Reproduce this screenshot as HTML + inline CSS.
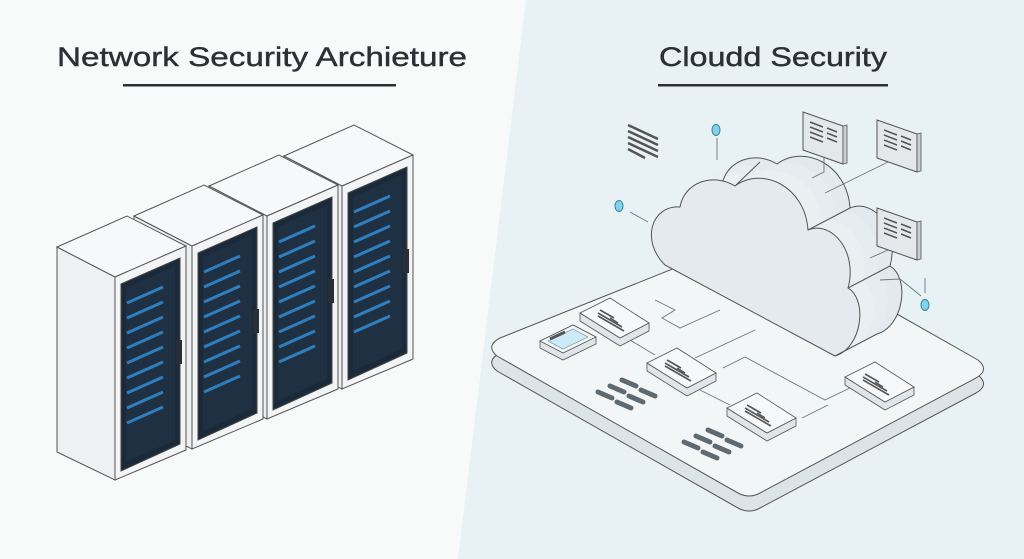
<!DOCTYPE html>
<html><head><meta charset="utf-8"><style>
html,body{margin:0;padding:0;width:1024px;height:559px;overflow:hidden;background:#f8f9f9}
svg{display:block}
</style></head><body>
<svg width="1024" height="559" viewBox="0 0 1024 559" xmlns="http://www.w3.org/2000/svg">
<defs>
<g id="rack">
  <polygon points="57,247 115,277 115,480 57,452" fill="#eef0f2" stroke="#555" stroke-width="1"/>
  <polygon points="57,247 127,216 186,246 115,277" fill="#f7f8f9" stroke="#555" stroke-width="1"/>
  <polygon points="115,277 186,246 186,450 115,480" fill="#f2f4f5" stroke="#555" stroke-width="1"/>
  <polygon points="121,284 180,258 180,444 121,471" fill="#1b2a3a" stroke="#444" stroke-width="1"/>
  <polygon points="126,288 175,266 175,440 126,462" fill="#1f3043"/>
  <g stroke="#2f7fbf" stroke-width="3">
    <line x1="127" y1="303" x2="163" y2="287"/>
    <line x1="127" y1="318" x2="163" y2="302"/>
    <line x1="127" y1="333" x2="163" y2="317"/>
    <line x1="127" y1="348" x2="163" y2="332"/>
    <line x1="127" y1="363" x2="163" y2="347"/>
    <line x1="127" y1="378" x2="163" y2="362"/>
    <line x1="127" y1="393" x2="163" y2="377"/>
    <line x1="127" y1="408" x2="163" y2="392"/>
    <line x1="127" y1="423" x2="163" y2="407"/>
  </g>
  <rect x="176" y="340" width="6" height="24" fill="#2a2f35"/>
</g>
<g id="node">
  <polygon points="0,15 0,23 40,48 69,33 69,25 40,40" fill="#dfe5e8" stroke="#555" stroke-width="0.8"/>
  <polygon points="0,15 30,0 69,25 40,40" fill="#f6f8f9" stroke="#555" stroke-width="0.8"/>
  <g stroke="#555" stroke-width="1.6">
    <line x1="20" y1="12" x2="34" y2="20"/>
    <line x1="18" y1="15" x2="42" y2="29"/>
    <line x1="18" y1="18" x2="44" y2="33"/>
    <line x1="30" y1="20" x2="38" y2="25"/>
  </g>
</g>
<g id="panel">
  <polygon points="0,0 40,14 40,52 0,38" fill="#e4e8ea" stroke="#555" stroke-width="1"/>
  <polygon points="40,14 44,13 44,51 40,52" fill="#c9cfd3" stroke="#555" stroke-width="0.8"/>
  <g stroke="#555" stroke-width="1.6">
    <line x1="7" y1="10" x2="20" y2="15"/><line x1="24" y1="16" x2="34" y2="20"/>
    <line x1="7" y1="15" x2="20" y2="20"/><line x1="24" y1="21" x2="34" y2="25"/>
    <line x1="7" y1="20" x2="20" y2="25"/><line x1="24" y1="26" x2="34" y2="30"/>
    <line x1="7" y1="25" x2="20" y2="30"/>
  </g>
</g>
<g id="keys" stroke="#5f6970" stroke-width="5" stroke-linecap="round">
  <line x1="0" y1="12" x2="14" y2="18"/>
  <line x1="12" y1="6" x2="26" y2="12"/>
  <line x1="24" y1="0" x2="38" y2="6"/>
  <line x1="19" y1="22" x2="33" y2="28"/>
  <line x1="31" y1="16" x2="45" y2="22"/>
  <line x1="43" y1="10" x2="57" y2="16"/>
</g>
</defs>

<polygon points="526,0 1024,0 1024,559 458,559" fill="#e8f1f3"/>

<g font-family="Liberation Sans Narrow, Liberation Sans, sans-serif" font-size="27" fill="#2b3035" stroke="#2b3035" stroke-width="0.4">
<text x="262" y="66" text-anchor="middle" textLength="410" lengthAdjust="spacingAndGlyphs">Network Security Archieture</text>
<text x="773" y="66" text-anchor="middle" textLength="228" lengthAdjust="spacingAndGlyphs">Cloudd Security</text>
</g>
<rect x="123" y="84" width="273" height="2.5" fill="#2b3035"/>
<rect x="658" y="84" width="230" height="2.5" fill="#2b3035"/>

<use href="#rack" transform="translate(227,-91)"/>
<use href="#rack" transform="translate(152,-61)"/>
<use href="#rack" transform="translate(77,-31)"/>
<use href="#rack"/>

<path d="M500,338 L745,240 Q757,234 770,242 L978,360 Q990,370 976,378 L760,493 Q749,499 738,493 L497,356 Q485,346 500,338 Z" fill="#dde4e7" stroke="#555" stroke-width="1" transform="translate(0,15)"/>
<path d="M500,338 L745,240 Q757,234 770,242 L978,360 Q990,370 976,378 L760,493 Q749,499 738,493 L497,356 Q485,346 500,338 Z" fill="#f3f6f7" stroke="#555" stroke-width="1"/>

<g stroke="#6a7680" stroke-width="0.9" fill="none">
  <polyline points="655,300 675,310 662,318 680,328 720,310"/>
  <line x1="630" y1="340" x2="655" y2="355"/>
  <line x1="695" y1="358" x2="755" y2="330"/>
  <polyline points="723,368 745,357 825,400 850,388"/>
  <line x1="700" y1="390" x2="730" y2="405"/>
  <line x1="802" y1="418" x2="828" y2="405"/>
</g>

<g stroke="#555" stroke-width="1" stroke-linejoin="round">
  <path d="M665,265 C640,240 652,205 680,207 C684,183 712,172 735,186 C762,166 805,186 808,230 C832,220 858,252 848,288 C868,300 862,348 835,356 Z" fill="#e3eaed" transform="translate(42,-22)" stroke="none"/>
  <path d="M665,265 C640,240 652,205 680,207 C684,183 712,172 735,186 C762,166 805,186 808,230 C832,220 858,252 848,288 C868,300 862,348 835,356 Z" fill="#e6edf0" transform="translate(28,-15)" stroke="none"/>
  <path d="M665,265 C640,240 652,205 680,207 C684,183 712,172 735,186 C762,166 805,186 808,230 C832,220 858,252 848,288 C868,300 862,348 835,356 Z" fill="#eaf0f2" transform="translate(14,-7)" stroke="none"/>
  <path d="M680,207 C684,183 712,172 735,186 C762,166 805,186 808,230" fill="none" transform="translate(42,-22)"/>
  <path d="M808,230 C832,220 858,252 848,288 C868,300 862,348 835,356" fill="none" transform="translate(42,-22)"/>
  <path d="M665,265 C640,240 652,205 680,207 C684,183 712,172 735,186 C762,166 805,186 808,230 C832,220 858,252 848,288 C868,300 862,348 835,356 Z" fill="#e4eaed"/>
  <line x1="735" y1="186" x2="760" y2="162"/>
  <line x1="808" y1="230" x2="850" y2="208"/>
  <line x1="848" y1="288" x2="890" y2="266"/>
  <line x1="835" y1="356" x2="877" y2="334"/>
</g>

<use href="#node" transform="translate(580,298)"/>
<use href="#node" transform="translate(647,348)"/>
<use href="#node" transform="translate(727,393)"/>
<use href="#node" transform="translate(845,362)"/>
<polygon points="540,341 540,348 563,360 596,344 596,337 573,325" fill="#dfe5e8" stroke="#555" stroke-width="0.8"/>
<polygon points="540,341 573,325 596,337 563,353" fill="#f3f6f7" stroke="#555" stroke-width="0.8"/>
<polygon points="548,341 573,329 588,337 563,349" fill="#cdeaf7" stroke="#6a8a99" stroke-width="0.6"/>
<line x1="550" y1="339" x2="565" y2="332" stroke="#555" stroke-width="3"/>

<use href="#keys" transform="translate(598,380)"/>
<use href="#keys" transform="translate(684,430)"/>

<g stroke="#6a7680" stroke-width="0.9" fill="none">
  <polyline points="824,157 824,172 812,178"/>
  <line x1="825" y1="193" x2="888" y2="162"/>
  <line x1="870" y1="258" x2="888" y2="250"/>
  <polyline points="880,280 900,279 921,296"/>
  <line x1="925" y1="278" x2="925" y2="293"/>
  <line x1="717" y1="138" x2="717" y2="160"/>
  <line x1="630" y1="212" x2="648" y2="222"/>
</g>
<use href="#panel" transform="translate(803,112)"/>
<use href="#panel" transform="translate(877,120)"/>
<use href="#panel" transform="translate(877,208)"/>

<g stroke="#555" stroke-width="2.5">
  <line x1="628" y1="125" x2="658" y2="139"/>
  <line x1="628" y1="131" x2="658" y2="145"/>
  <line x1="628" y1="137" x2="658" y2="151"/>
  <line x1="628" y1="143" x2="658" y2="157"/>
  <line x1="628" y1="149" x2="645" y2="158"/>
</g>

<g fill="#7fd3ec" stroke="#3a7f99" stroke-width="1">
  <ellipse cx="716" cy="130" rx="4" ry="5.5"/>
  <ellipse cx="619" cy="206" rx="4" ry="5.5"/>
  <ellipse cx="925" cy="305" rx="4" ry="5.5"/>
</g>
</svg>
</body></html>
